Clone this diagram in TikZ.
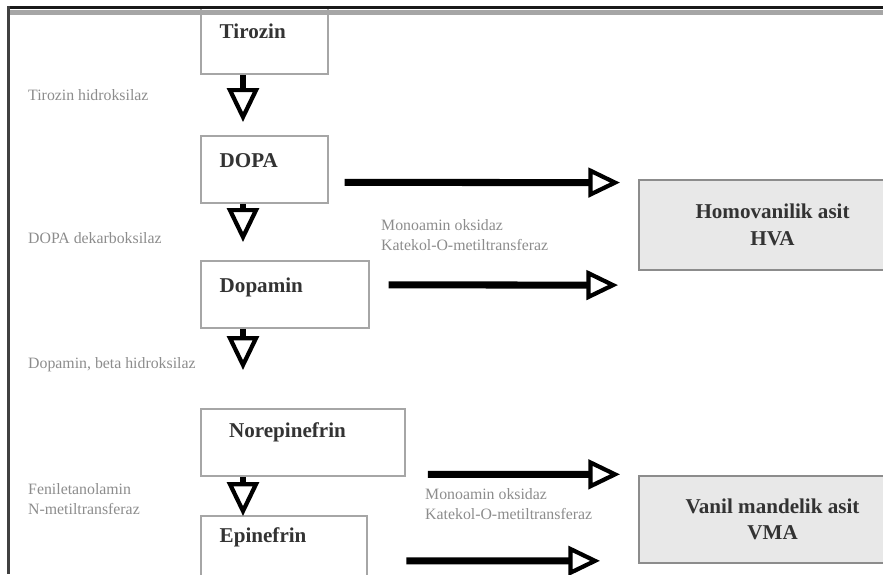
\documentclass[tikz,border=0pt]{standalone}
\usepackage{fontspec}
\setmainfont{Liberation Serif}
\usepackage{tikz}
\usetikzlibrary{arrows.meta}

\begin{document}
\begin{tikzpicture}[
        x=0.03cm, y=-0.03cm,
        stepbox/.style={rectangle, draw=black!35, line width=1.7pt, anchor=north west,
                        align=left, inner xsep=16pt, inner ysep=0pt,
                        text height=27pt, text depth=30pt, text=black!80,
                        font=\bfseries\fontsize{18}{22}\selectfont},
        endbox/.style={rectangle, draw=black!45, line width=1.7pt, fill=black!9,
                       anchor=north west, align=center, minimum width=228pt,
                       text=black!80, font=\bfseries\fontsize{18}{23}\selectfont},
        enz/.style={anchor=west, align=left, inner sep=0pt, text=black!45,
                    font=\fontsize{13.5}{17}\selectfont},
        vflow/.style={line width=5.5pt, -{Triangle[open, length=29pt, width=27pt, line width=3.6pt]}},
        hflow/.style={line width=6pt, -{Triangle[open, length=27pt, width=25pt, line width=3.6pt]}}
    ]
        \useasboundingbox (0,0) rectangle (883,574);
        \clip (0,0) rectangle (883,574);

        %--- Pathway boxes ---
        \node[stepbox, text width=76pt] (tirozin) at (200,6) {Tirozin};
        \node[stepbox, text width=76pt] (dopa) at (200,135) {DOPA};
        \node[stepbox, text width=111pt] (dopamin) at (200,260) {Dopamin};
        \node[stepbox, inner xsep=24pt, text width=126pt, text height=24pt, text depth=33pt] (norepi) at (200,408) {Norepinefrin};
        \node[stepbox, text width=110pt, text height=23pt, text depth=34pt] (epi) at (200,515) {Epinefrin};

        %--- End products ---
        \node[endbox, minimum height=77pt] (hva) at (638,179) {Homovanilik asit\\HVA};
        \node[endbox, minimum height=74pt] (vma) at (638,475) {Vanil mandelik asit\\VMA};

        %--- Arrows: synthesis ---
        \draw[vflow] ([shift={(43,0)}]tirozin.south west) -- ([shift={(43,-13)}]dopa.north west);
        \draw[vflow] ([shift={(43,0)}]dopa.south west) -- ([shift={(43,-18)}]dopamin.north west);
        \draw[vflow] ([shift={(43,0)}]dopamin.south west) -- ([shift={(43,-38)}]norepi.north west);
        \draw[vflow] ([shift={(43,0)}]norepi.south west) -- ([shift={(43,1)}]epi.north west);

        %--- Arrows: breakdown ---
        \draw[hflow] ([shift={(16,13)}]dopa.east) -- ([shift={(-18,-42.5)}]hva.west);
        \draw[hflow] ([shift={(19,-9.5)}]dopamin.east) -- ([shift={(-20,60)}]hva.west);
        \draw[hflow] ([shift={(22,32)}]norepi.east) -- ([shift={(-18,-45)}]vma.west);
        \draw[hflow] ([shift={(38,11.5)}]epi.east) -- ([shift={(-38,41.5)}]vma.west);

        %--- Enzyme labels ---
        \node[enz] (th) at (28,95) {Tirozin hidroksilaz};
        \node[enz] (ddc) at (28,238) {DOPA dekarboksilaz};
        \node[enz] (dbh) at (28,365) {Dopamin, beta hidroksilaz};
        \node[enz] (pnmt) at (28,499) {Feniletanolamin\\N-metiltransferaz};
        \node[enz] (mao1) at (381,235.5) {Monoamin oksidaz\\Katekol-O-metiltransferaz};
        \node[enz] (mao2) at (425,504) {Monoamin oksidaz\\Katekol-O-metiltransferaz};

        %--- Frame ---
        \draw[black!35, line width=4pt] (7,12.5) -- (883,12.5);
        \draw[black!90, line width=2.6pt] (7,7.5) -- (883,7.5);
        \draw[black!75, line width=2.6pt] (8.5,6) -- (8.5,574);
    \end{tikzpicture}
\end{document}
